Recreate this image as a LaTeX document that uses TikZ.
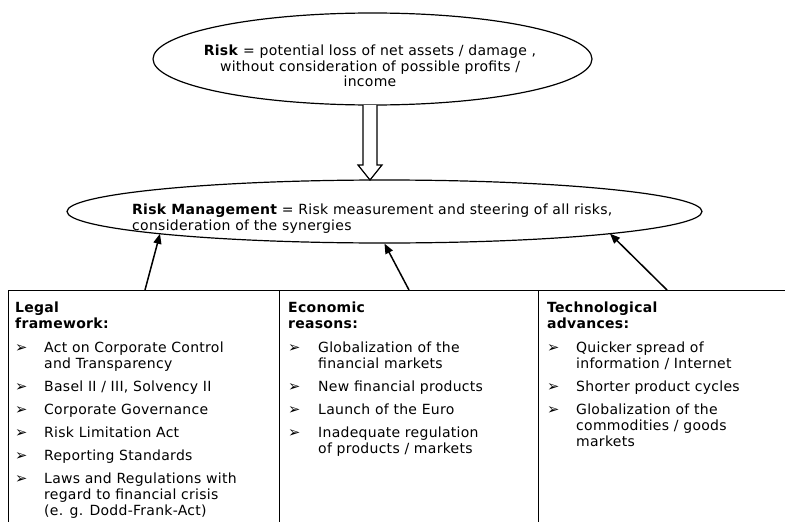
\documentclass[tikz,border=0pt]{standalone}
\usepackage{fontspec}
\usepackage{graphicx}
\setmainfont{DejaVu Sans}[LetterSpace=2]
\usetikzlibrary{arrows.meta,shapes.geometric,calc}
\newcommand\bul{\raisebox{0.3pt}{\scalebox{1.05}{➢}}}
\begin{document}
\begin{tikzpicture}[x=1pt,y=-1pt,
  oval/.style={draw, ellipse, line width=1.2pt, inner sep=0pt},
  frame/.style={draw, line width=1.3pt, rectangle, anchor=north west, inner sep=0pt, minimum height=260pt},
  boxtxt/.style={anchor=north west, inner sep=0pt, font=\fontsize{14}{16}\selectfont},
  push/.style={-{Triangle[length=10pt,width=8pt]}, line width=1.5pt},
  hollow/.style={draw, line width=1.2pt, fill=white}]
\useasboundingbox (0,0) rectangle (785,522);

% ellipses
\node[oval, minimum width=439pt, minimum height=92pt] (risk) at (372.5,59) {};
\node[anchor=north, inner sep=0pt, align=center, font=\fontsize{14}{15}\selectfont] (riskt) at (370,44.5)
  {\strut\textbf{Risk} = potential loss of net assets / damage ,\\ without consideration of possible profits /\\ income};

\node[oval, minimum width=635pt, minimum height=63pt] (rm) at (384.5,211.5) {};
\node[anchor=north west, inner sep=0pt, align=left, font=\fontsize{14}{16}\selectfont] (rmt) at (132,202.8)
  {\strut\textbf{Risk Management} = Risk measurement and steering of all risks,\\ consideration of the synergies};

% hollow arrow
\coordinate (da) at (370,105);
\coordinate (db) at (370,180);
\draw[hollow] ($(da)+(-7,0)$) -- ($(da)+(-7,60)$) -- ($(da)+(-12,60)$) -- (db)
  -- ($(da)+(12,60)$) -- ($(da)+(7,60)$) -- ($(da)+(7,0)$);

% boxes
\node[frame, minimum width=271pt] (lbox) at (8,290) {};
\node[frame, minimum width=259pt] (ebox) at (279,290) {};
\node[frame, minimum width=262pt] (tbox) at (538,290) {};

\node[boxtxt] (ltxt) at (15,301) {%
\begin{tabular}{@{}p{29pt}@{}l@{}}
\multicolumn{2}{@{}l@{}}{\bfseries Legal}\\
\multicolumn{2}{@{}l@{}}{\bfseries framework:}\\[8pt]
\bul & Act on Corporate Control\\
 & and Transparency\\[7pt]
\bul & Basel II / III, Solvency II\\[7pt]
\bul & Corporate Governance\\[7pt]
\bul & Risk Limitation Act\\[7pt]
\bul & Reporting Standards\\[7pt]
\bul & Laws and Regulations with\\
 & regard to financial crisis\\
 & (e. g. Dodd-Frank-Act)
\end{tabular}};

\node[boxtxt] (etxt) at (288,301) {%
\begin{tabular}{@{}p{30pt}@{}l@{}}
\multicolumn{2}{@{}l@{}}{\bfseries Economic}\\
\multicolumn{2}{@{}l@{}}{\bfseries reasons:}\\[8pt]
\bul & Globalization of the\\
 & financial markets\\[7pt]
\bul & New financial products\\[7pt]
\bul & Launch of the Euro\\[7pt]
\bul & Inadequate regulation\\
 & of products / markets
\end{tabular}};

\node[boxtxt] (ttxt) at (547,301) {%
\begin{tabular}{@{}p{29pt}@{}l@{}}
\multicolumn{2}{@{}l@{}}{\bfseries Technological}\\
\multicolumn{2}{@{}l@{}}{\bfseries advances:}\\[8pt]
\bul & Quicker spread of\\
 & information / Internet\\[7pt]
\bul & Shorter product cycles\\[7pt]
\bul & Globalization of the\\
 & commodities / goods\\
 & markets
\end{tabular}};

% arrow tips on the lower ellipse
\coordinate (t1) at ($(rm.center)+(-224.5,22.3)$);
\coordinate (t3) at ($(rm.center)+(225.5,22.2)$);

% arrows
\draw[push] ([xshift=137pt]lbox.north west) -- (t1);
\draw[push] ([xshift=130pt]ebox.north west) -- (rm.south);
\draw[push] ([xshift=129pt]tbox.north west) -- (t3);
\end{tikzpicture}
\end{document}
